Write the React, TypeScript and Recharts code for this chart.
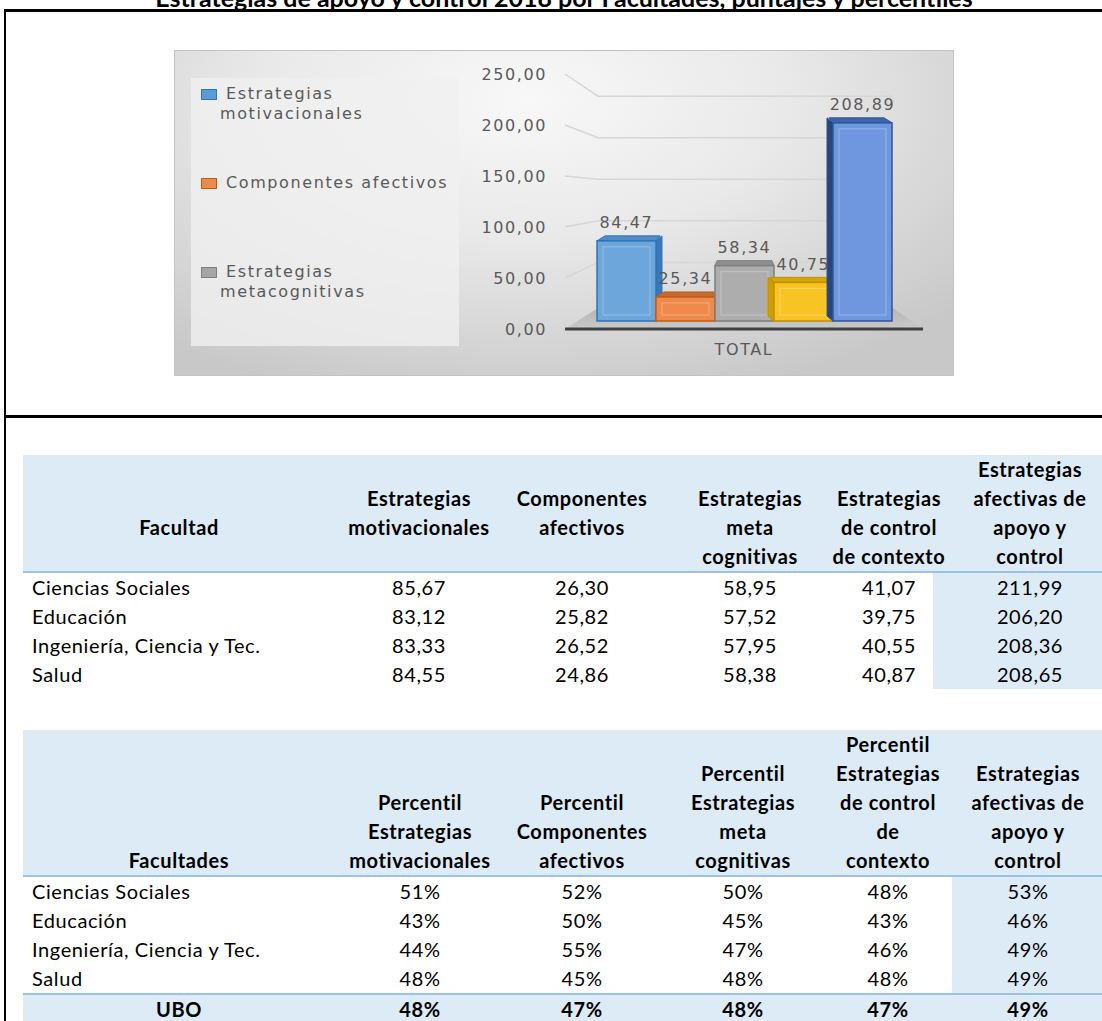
import React from 'react';
import { BarChart, Bar, XAxis, YAxis, CartesianGrid, Legend, LabelList } from 'recharts';

// ---------- DATA ----------
const TITLE = 'Estrategias de apoyo y control 2018 por Facultades, puntajes y percentiles';
const categories = ['TOTAL'];
const seriesNames = [
  'Estrategias motivacionales',
  'Componentes afectivos',
  'Estrategias metacognitivas',
  'Estrategias de control de contexto',
  'Estrategias afectivas de apoyo y control',
];
const motivacionales = [84.47];
const componentesAfectivos = [25.34];
const metacognitivas = [58.34];
const controlContexto = [40.75];
const apoyoControl = [208.89];
const yTicks = [0, 50, 100, 150, 200, 250];
const legendShownCount = 3;

const facultades = ['Ciencias Sociales', 'Educación', 'Ingeniería, Ciencia y Tec.', 'Salud'];
const scoresMotivacionales = [85.67, 83.12, 83.33, 84.55];
const scoresAfectivos = [26.3, 25.82, 26.52, 24.86];
const scoresMeta = [58.95, 57.52, 57.95, 58.38];
const scoresContexto = [41.07, 39.75, 40.55, 40.87];
const scoresApoyo = [211.99, 206.2, 208.36, 208.65];

const pctMotivacionales = [51, 43, 44, 48];
const pctAfectivos = [52, 50, 55, 45];
const pctMeta = [50, 45, 47, 48];
const pctContexto = [48, 43, 46, 48];
const pctApoyo = [53, 46, 49, 49];
const uboLabel = 'UBO';
const uboPercentiles = [48, 47, 48, 47, 49];

const table1Headers = [
  ['Facultad'],
  ['Estrategias', 'motivacionales'],
  ['Componentes', 'afectivos'],
  ['Estrategias', 'meta', 'cognitivas'],
  ['Estrategias', 'de control', 'de contexto'],
  ['Estrategias', 'afectivas de', 'apoyo y', 'control'],
];
const table1HeaderStart = [2, 1, 1, 1, 1, 0];
const table2Headers = [
  ['Facultades'],
  ['Percentil', 'Estrategias', 'motivacionales'],
  ['Percentil', 'Componentes', 'afectivos'],
  ['Percentil', 'Estrategias', 'meta', 'cognitivas'],
  ['Percentil', 'Estrategias', 'de control', 'de', 'contexto'],
  ['Estrategias', 'afectivas de', 'apoyo y', 'control'],
];
const table2HeaderStart = [4, 2, 2, 1, 0, 1];

// ---------- STYLE / LAYOUT ----------
const CHART_W = 780;
const CHART_H = 326;
const X_AXIS_H = 30;
const MARGIN = { top: 24, right: 31, bottom: 17, left: 311 };
const PERSPECTIVE = 0.93;
const LIFT = 8;
const chartFontFamily = '"DejaVu Sans", Verdana, sans-serif';
const axisFont = { fontFamily: chartFontFamily, fontSize: 16, letterSpacing: 1.6, fill: '#595959' };
const tableFont = 'Lato, "Open Sans", sans-serif';

const seriesStyles = [
  { front: '#6CA6DB', edge: '#2E75B6', top: '#4F8CC9', side: '#3A78B8', dir: 1, sq: '#5B9BD5', sqEdge: '#2E75B6' },
  { front: '#EE8A4C', edge: '#C55A11', top: '#BE6C3A', side: '#C4611F', dir: 1, sq: '#ED8B4D', sqEdge: '#C55A11' },
  { front: '#ADADAD', edge: '#7F7F7F', top: '#8E8E8E', side: '#8A8A8A', dir: 0, sq: '#A5A5A5', sqEdge: '#7F7F7F' },
  { front: '#F8C424', edge: '#BF9000', top: '#D9A600', side: '#D09D00', dir: -1, sq: '#FFC000', sqEdge: '#BF9000' },
  { front: '#6E97DF', edge: '#2F5597', top: '#3E65A9', side: '#2A4577', dir: -1, sq: '#4472C4', sqEdge: '#2F5597' },
];

const fmt2 = (v: number) => v.toFixed(2).replace('.', ',');
const fmtPct = (v: number) => `${v}%`;

function Bar3D(props: any) {
  const { x, y, width, height, st } = props;
  if (width == null || height == null) return null;
  const base = y + height;
  const h = height * PERSPECTIVE;
  const bottom = base - LIFT;
  const top = bottom - h;
  const d = 5;
  const dx = st.dir * 6;
  const inset = 6;
  const topFace = `${x},${top} ${x + width},${top} ${x + width - 2 + dx},${top - d} ${x + 2 + dx},${top - d}`;
  let side: string | null = null;
  if (st.dir > 0) {
    side = `${x + width},${top} ${x + width + dx},${top - d} ${x + width + dx},${bottom - d} ${x + width},${bottom}`;
  } else if (st.dir < 0) {
    side = `${x},${top} ${x + dx},${top - d} ${x + dx},${bottom - d} ${x},${bottom}`;
  }
  return (
    <g>
      {side && <polygon points={side} fill={st.side} stroke={st.edge} strokeWidth={1} />}
      <polygon points={topFace} fill={st.top} stroke={st.edge} strokeWidth={1} />
      <rect x={x} y={top} width={width} height={h} fill={st.front} stroke={st.edge} strokeWidth={1.5} />
      {h > inset * 2 + 2 && (
        <rect x={x + inset} y={top + inset} width={width - inset * 2} height={h - inset * 2}
          fill="none" stroke="#ffffff" strokeOpacity={0.3} strokeWidth={1} />
      )}
    </g>
  );
}

function BarLabel(props: any) {
  const vb = props.viewBox && props.viewBox.width != null ? props.viewBox : props;
  const { x, y, width, height } = vb;
  const base = y + height;
  const top = base - LIFT - height * PERSPECTIVE;
  return (
    <text x={x + width / 2} y={top - 18} textAnchor="middle" dominantBaseline="central" style={axisFont}>
      {fmt2(Number(props.value))}
    </text>
  );
}

function YTick(props: any) {
  const { x, y, payload } = props;
  return (
    <text x={x} y={y} textAnchor="end" dominantBaseline="central" style={axisFont}>
      {fmt2(payload.value)}
    </text>
  );
}

function XTick(props: any) {
  const { x, y, payload } = props;
  return (
    <text x={x} y={y} textAnchor="middle" dominantBaseline="central" style={axisFont}>
      {payload.value}
    </text>
  );
}

function GridLine(props: any) {
  const { x1, y1, x2 } = props;
  const base = props.y != null && props.height != null ? props.y + props.height : CHART_H - MARGIN.bottom - X_AXIS_H;
  const backBase = base - 25;
  const yBack = backBase - (base - y1) * 0.815;
  const bx1 = x1 + 33;
  const bx2 = x2 - 30;
  const isFloor = Math.abs(y1 - base) < 1;
  if (isFloor) {
    return (
      <g key={props.key}>
        <defs>
          <linearGradient id="floorGrad" x1="0" y1="0" x2="0" y2="1">
            <stop offset="0%" stopColor="#B5B5B5" />
            <stop offset="100%" stopColor="#C9C9C9" />
          </linearGradient>
        </defs>
        <polygon points={`${x1},${base} ${x2},${base} ${bx2},${backBase + 4} ${bx1},${backBase + 4}`} fill="url(#floorGrad)" />
      </g>
    );
  }
  return (
    <polyline key={props.key} points={`${x1},${y1} ${bx1},${yBack} ${bx2},${yBack}`} fill="none" stroke="#D6D6D6" strokeWidth={1.5} />
  );
}

function LegendContent(props: any) {
  const payload = (props.payload || [])
    .filter((e: any) => seriesNames.indexOf(e.value) >= 0)
    .sort((a: any, b: any) => seriesNames.indexOf(a.value) - seriesNames.indexOf(b.value))
    .slice(0, legendShownCount);
  return (
    <div style={{ width: 268, height: 268, background: 'rgba(240,240,240,0.8)', position: 'relative' }}>
      {payload.map((entry: any, i: number) => {
        const st = seriesStyles[seriesNames.indexOf(entry.value)];
        return (
          <div key={i} style={{ position: 'absolute', left: 0, top: i * 89, width: 268, height: 89 }}>
            <div style={{ position: 'absolute', left: 10, top: 11, width: 14, height: 9, background: st.sq, border: `1.5px solid ${st.sqEdge}` }} />
            <div style={{
              position: 'absolute', left: 29, top: 6, width: 238, lineHeight: '20px', textIndent: 6,
              fontFamily: chartFontFamily, fontSize: 16, letterSpacing: 1.6, color: '#595959',
            }}>{entry.value}</div>
          </div>
        );
      })}
    </div>
  );
}

type TableProps = {
  bandTop: number;
  lineCount: number;
  headers: string[][];
  headerStart: number[];
  colCenters: number[];
  rowLabels: string[];
  rows: string[][];
  highlightLeft: number;
  footer?: { label: string; values: string[] };
};

const PITCH = 29;
const textBase: React.CSSProperties = {
  position: 'absolute', height: PITCH, lineHeight: `${PITCH}px`, fontFamily: tableFont, fontSize: 20,
  letterSpacing: 0.6, color: '#000', whiteSpace: 'nowrap',
};

function DataTable(p: TableProps) {
  const firstLine = p.bandTop + 14;
  const bandBottom = firstLine + (p.lineCount - 1) * PITCH + 15;
  const rowsTop = bandBottom + 2;
  const rowsBottom = rowsTop + p.rows.length * PITCH;
  const els: React.ReactNode[] = [];
  els.push(<div key="band" style={{ position: 'absolute', left: 23, top: p.bandTop, width: 1102 - 23, height: bandBottom - p.bandTop, background: '#DDEBF7' }} />);
  els.push(<div key="bline" style={{ position: 'absolute', left: 23, top: bandBottom, width: 1102 - 23, height: 2, background: '#9BC2E6' }} />);
  els.push(<div key="hl" style={{ position: 'absolute', left: p.highlightLeft, top: rowsTop, width: 1102 - p.highlightLeft, height: rowsBottom - rowsTop, background: '#DDEBF7' }} />);
  p.headers.forEach((lines, c) => {
    lines.forEach((ln, k) => {
      const cy = firstLine + (p.headerStart[c] + k) * PITCH;
      els.push(
        <div key={`h${c}-${k}`} style={{ ...textBase, top: cy - PITCH / 2, left: p.colCenters[c] - 150, width: 300, textAlign: 'center', fontWeight: 700 }}>{ln}</div>
      );
    });
  });
  p.rowLabels.forEach((lab, r) => {
    const cy = rowsTop + r * PITCH + PITCH / 2;
    els.push(<div key={`rl${r}`} style={{ ...textBase, top: cy - PITCH / 2, left: 32 }}>{lab}</div>);
    p.rows[r].forEach((v, c) => {
      els.push(
        <div key={`c${r}-${c}`} style={{ ...textBase, top: cy - PITCH / 2, left: p.colCenters[c + 1] - 100, width: 200, textAlign: 'center' }}>{v}</div>
      );
    });
  });
  if (p.footer) {
    const ft = rowsBottom + 2;
    els.push(<div key="fline" style={{ position: 'absolute', left: 23, top: rowsBottom, width: 1102 - 23, height: 2, background: '#9BC2E6' }} />);
    els.push(<div key="fband" style={{ position: 'absolute', left: 23, top: ft, width: 1102 - 23, height: PITCH + 4, background: '#DDEBF7' }} />);
    const cy = ft + PITCH / 2;
    els.push(<div key="flab" style={{ ...textBase, top: cy - PITCH / 2, left: p.colCenters[0] - 150, width: 300, textAlign: 'center', fontWeight: 700 }}>{p.footer.label}</div>);
    p.footer.values.forEach((v, c) => {
      els.push(<div key={`fv${c}`} style={{ ...textBase, top: cy - PITCH / 2, left: p.colCenters[c + 1] - 100, width: 200, textAlign: 'center', fontWeight: 700 }}>{v}</div>);
    });
  }
  return <>{els}</>;
}

export default function App() {
  const chartData = categories.map((c, i) => ({
    category: c,
    s0: motivacionales[i],
    s1: componentesAfectivos[i],
    s2: metacognitivas[i],
    s3: controlContexto[i],
    s4: apoyoControl[i],
  }));
  const keys = ['s0', 's1', 's2', 's3', 's4'];

  const scoreRows = facultades.map((_, r) => [
    scoresMotivacionales[r], scoresAfectivos[r], scoresMeta[r], scoresContexto[r], scoresApoyo[r],
  ].map(fmt2));
  const pctRows = facultades.map((_, r) => [
    pctMotivacionales[r], pctAfectivos[r], pctMeta[r], pctContexto[r], pctApoyo[r],
  ].map(fmtPct));

  return (
    <div style={{ position: 'absolute', left: 0, top: 0, width: 1102, height: 1021, overflow: 'hidden', background: '#fff' }}>
      {/* title (cut at top, as in the source) */}
      <div style={{
        position: 'absolute', left: 564, top: -15, transform: 'translateX(-50%)', whiteSpace: 'nowrap',
        fontFamily: tableFont, fontWeight: 700, fontSize: 25, lineHeight: '25px', color: '#000',
      }}>{TITLE}</div>
      {/* frame lines */}
      <div style={{ position: 'absolute', left: 4, top: 9, width: 1098, height: 3, background: '#000' }} />
      <div style={{ position: 'absolute', left: 4, top: 9, width: 2, height: 1012, background: '#000' }} />
      <div style={{ position: 'absolute', left: 4, top: 415, width: 1098, height: 3, background: '#000' }} />

      {/* chart */}
      <div style={{
        position: 'absolute', left: 174, top: 50, width: CHART_W, height: CHART_H,
        background: 'radial-gradient(ellipse 75% 95% at 45% 15%, #F8F8F8 0%, #E9E9E9 45%, #C8C8C8 100%)',
        boxShadow: 'inset 0 0 0 1px #C4C4C4',
      }}>
        <BarChart width={CHART_W} height={CHART_H} data={chartData} margin={MARGIN} barCategoryGap={32} barGap={0}>
          <CartesianGrid vertical={false} horizontal={(gp: any) => <GridLine {...gp} />} />
          <XAxis dataKey="category" height={X_AXIS_H} axisLine={{ stroke: '#404040', strokeWidth: 3 }} tickLine={false} tickSize={0} tickMargin={20} tick={<XTick />} />
          <YAxis domain={[0, 250]} ticks={yTicks} interval={0} width={80} axisLine={false} tickLine={false} tickSize={0} tickMargin={18} tick={<YTick />} />
          <Legend layout="vertical" align="center" verticalAlign="middle" content={<LegendContent />}
            wrapperStyle={{ left: 17, top: 28, width: 268, height: 268 }} />
          {keys.map((k, i) => (
            <Bar key={k} dataKey={k} name={seriesNames[i]} fill={seriesStyles[i].sq} isAnimationActive={false}
              shape={(bp: any) => <Bar3D {...bp} st={seriesStyles[i]} />}>
              <LabelList dataKey={k} content={<BarLabel />} />
            </Bar>
          ))}
        </BarChart>
      </div>

      <DataTable
        bandTop={455}
        lineCount={4}
        headers={table1Headers}
        headerStart={table1HeaderStart}
        colCenters={[179, 419, 582, 750, 889, 1030]}
        rowLabels={facultades}
        rows={scoreRows}
        highlightLeft={933}
      />
      <DataTable
        bandTop={730}
        lineCount={5}
        headers={table2Headers}
        headerStart={table2HeaderStart}
        colCenters={[179, 420, 582, 743, 888, 1028]}
        rowLabels={facultades}
        rows={pctRows}
        highlightLeft={952}
        footer={{ label: uboLabel, values: uboPercentiles.map(fmtPct) }}
      />
    </div>
  );
}
